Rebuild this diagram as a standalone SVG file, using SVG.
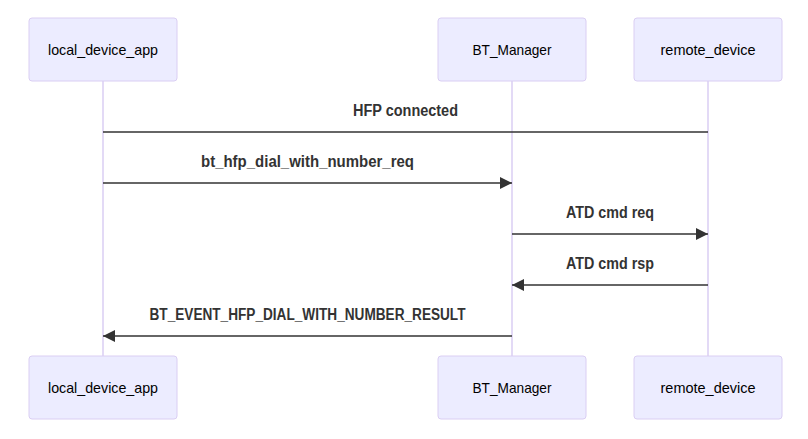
<svg xmlns="http://www.w3.org/2000/svg" width="808" height="439" viewBox="0 0 808 439">
<style>
.actor{fill:#ECECFF;stroke:#DACEF3;stroke-width:1}
.atext{font-family:"Liberation Sans",Arial,sans-serif;font-size:15px;fill:#000;text-anchor:middle}
.life{stroke:#DACEF3;stroke-width:1.5}
.msg{stroke:#333;stroke-width:1.5;fill:none}
.mtext{font-family:"Liberation Sans",Arial,sans-serif;font-size:16px;font-weight:bold;fill:#333;text-anchor:middle}
</style>
<defs>
<marker id="ah" markerWidth="12" markerHeight="12" refX="10" refY="5" viewBox="0 0 10 10" markerUnits="userSpaceOnUse" orient="auto">
<path d="M0,0 L10,5 L0,10 z" fill="#333"/>
</marker>
</defs>
<rect width="808" height="439" fill="#fff"/>
<g id="lifelines">
<line class="life" x1="103" y1="81" x2="103" y2="356"/>
<line class="life" x1="512" y1="81" x2="512" y2="356"/>
<line class="life" x1="708" y1="81" x2="708" y2="356"/>
</g>
<g id="local_device_app_top"><rect class="actor" x="29" y="18" width="148" height="63" rx="3"/><text class="atext" x="103" y="55" textLength="110" lengthAdjust="spacingAndGlyphs">local_device_app</text></g>
<g id="BT_Manager_top"><rect class="actor" x="438" y="18" width="148" height="63" rx="3"/><text class="atext" x="512" y="55" textLength="79" lengthAdjust="spacingAndGlyphs">BT_Manager</text></g>
<g id="remote_device_top"><rect class="actor" x="634" y="18" width="148" height="63" rx="3"/><text class="atext" x="708" y="55" textLength="95" lengthAdjust="spacingAndGlyphs">remote_device</text></g>
<g id="local_device_app_bottom"><rect class="actor" x="29" y="356" width="148" height="63" rx="3"/><text class="atext" x="103" y="393" textLength="110" lengthAdjust="spacingAndGlyphs">local_device_app</text></g>
<g id="BT_Manager_bottom"><rect class="actor" x="438" y="356" width="148" height="63" rx="3"/><text class="atext" x="512" y="393" textLength="79" lengthAdjust="spacingAndGlyphs">BT_Manager</text></g>
<g id="remote_device_bottom"><rect class="actor" x="634" y="356" width="148" height="63" rx="3"/><text class="atext" x="708" y="393" textLength="95" lengthAdjust="spacingAndGlyphs">remote_device</text></g>
<g id="connectors">
<line class="msg" x1="103" y1="132" x2="708" y2="132"/>
<text class="mtext" x="405.5" y="116" textLength="105" lengthAdjust="spacingAndGlyphs">HFP connected</text>
<line class="msg" x1="103" y1="183" x2="512" y2="183" marker-end="url(#ah)"/>
<text class="mtext" x="307.5" y="167" textLength="213" lengthAdjust="spacingAndGlyphs">bt_hfp_dial_with_number_req</text>
<line class="msg" x1="512" y1="234" x2="708" y2="234" marker-end="url(#ah)"/>
<text class="mtext" x="610" y="218" textLength="88" lengthAdjust="spacingAndGlyphs">ATD cmd req</text>
<line class="msg" x1="708" y1="285" x2="512" y2="285" marker-end="url(#ah)"/>
<text class="mtext" x="610" y="269" textLength="88" lengthAdjust="spacingAndGlyphs">ATD cmd rsp</text>
<line class="msg" x1="512" y1="336" x2="103" y2="336" marker-end="url(#ah)"/>
<text class="mtext" x="307.5" y="320" textLength="316" lengthAdjust="spacingAndGlyphs">BT_EVENT_HFP_DIAL_WITH_NUMBER_RESULT</text>
</g>
</svg>
